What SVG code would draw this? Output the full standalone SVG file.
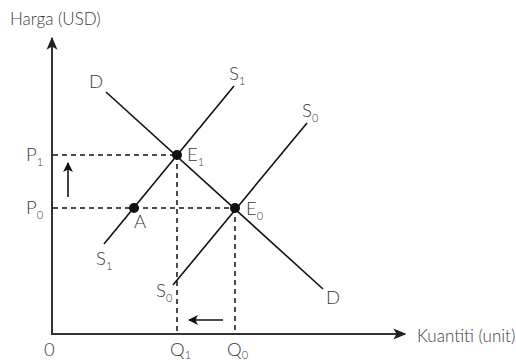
<svg xmlns="http://www.w3.org/2000/svg" width="516" height="360" viewBox="0 0 516 360">
<style>
.t{font-family:Lato,"Liberation Sans",sans-serif;font-weight:300;fill:#3a3a3a}
.lab{font-size:18.5px}
.ax{font-size:17px}
.sub{font-size:11px}
.axis{stroke:#333;stroke-width:2;fill:none}
.curve{stroke:#111;stroke-width:1.6;fill:none}
.dash{stroke:#111;stroke-width:1.5;stroke-dasharray:5 4;fill:none}
.dot{fill:#111}
</style>
<defs>
<marker id="ah" viewBox="0 0 10 10" refX="9" refY="5" markerWidth="10" markerHeight="10" markerUnits="userSpaceOnUse" orient="auto">
<path d="M0,0 L10,5 L0,10 L2.5,5 Z" fill="#111"/>
</marker>
<marker id="ahb" viewBox="0 0 10 10" refX="9" refY="5" markerWidth="13" markerHeight="13" markerUnits="userSpaceOnUse" orient="auto">
<path d="M0,0.8 L10,5 L0,9.2 L2.5,5 Z" fill="#222"/>
</marker>
</defs>
<g id="axes">
<line class="axis" x1="52" y1="335" x2="52" y2="38" marker-end="url(#ahb)"/>
<line class="axis" x1="51" y1="334" x2="405" y2="334" marker-end="url(#ahb)"/>
<text class="t ax" x="10" y="25">Harga (USD)</text>
<text class="t ax" x="417" y="342">Kuantiti (unit)</text>
<text class="t lab" x="44" y="356">0</text>
</g>
<g id="connectors">
<line class="dash" x1="53" y1="155" x2="177" y2="155"/>
<line class="dash" x1="53" y1="208" x2="235" y2="208"/>
<line class="dash" x1="177" y1="155" x2="177" y2="333"/>
<line class="dash" x1="235" y1="208" x2="235" y2="333"/>
<line class="curve" x1="68" y1="197" x2="68" y2="163" marker-end="url(#ah)"/>
<line class="curve" x1="223" y1="320" x2="189" y2="320" marker-end="url(#ah)"/>
</g>
<g id="curve-D">
<line class="curve" x1="106" y1="92" x2="323" y2="289"/>
<text class="t lab" x="89" y="88">D</text>
<text class="t lab" x="326" y="304">D</text>
</g>
<g id="curve-S1">
<line class="curve" x1="234" y1="86" x2="104" y2="244"/>
<text class="t lab" x="229" y="80">S<tspan class="sub" dy="5">1</tspan></text>
<text class="t lab" x="96" y="265">S<tspan class="sub" dy="5">1</tspan></text>
</g>
<g id="curve-S0">
<line class="curve" x1="307" y1="123" x2="173" y2="285"/>
<text class="t lab" x="302" y="117">S<tspan class="sub" dy="5">0</tspan></text>
<text class="t lab" x="156" y="297">S<tspan class="sub" dy="5">0</tspan></text>
</g>
<g id="point-E1">
<circle class="dot" cx="177" cy="155" r="5"/>
<text class="t lab" x="187" y="161">E<tspan class="sub" dy="5">1</tspan></text>
</g>
<g id="point-E0">
<circle class="dot" cx="235" cy="208" r="5"/>
<text class="t lab" x="246" y="215">E<tspan class="sub" dy="5">0</tspan></text>
</g>
<g id="point-A">
<circle class="dot" cx="134" cy="208" r="5"/>
<text class="t lab" x="134" y="228">A</text>
</g>
<g id="labels-P">
<text class="t lab" x="26" y="161">P<tspan class="sub" dy="5">1</tspan></text>
<text class="t lab" x="26" y="214">P<tspan class="sub" dy="5">0</tspan></text>
</g>
<g id="labels-Q">
<text class="t lab" x="170" y="356">Q<tspan class="sub" dy="3">1</tspan></text>
<text class="t lab" x="227" y="356">Q<tspan class="sub" dy="3">0</tspan></text>
</g>
</svg>
